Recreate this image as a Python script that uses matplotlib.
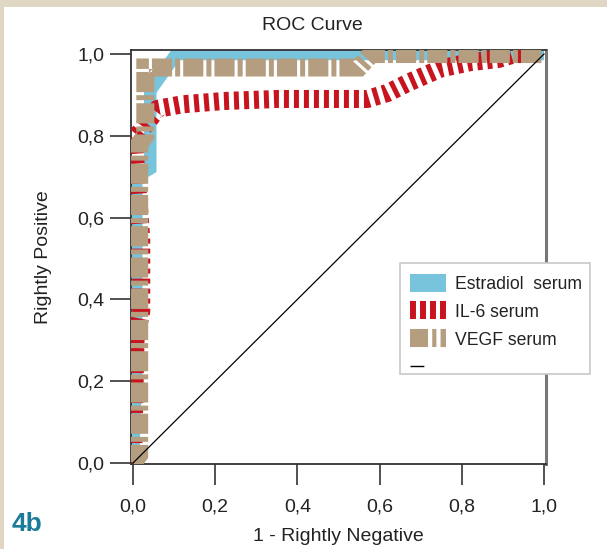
import matplotlib
matplotlib.use("Agg")
import matplotlib.pyplot as plt
from matplotlib.lines import Line2D
from matplotlib.patches import Rectangle

plt.rcParams['font.family'] = ['Liberation Sans', 'DejaVu Sans']
plt.rcParams['lines.scale_dashes'] = False

# ROC points (1 - specificity, sensitivity)
est_fpr = [0, 0.008, 0.008, 0.042, 0.042, 0.105, 1.0]
est_tpr = [0, 0.25, 0.70, 0.72, 0.91, 1.0, 1.0]

il6_fpr = [0, 0.006, 0.02, 0.02, 0.002, 0.06, 0.12, 0.22, 0.35, 0.57, 0.62, 0.67, 0.75, 0.82, 0.89, 0.93, 1.0]
il6_tpr = [0, 0.30, 0.37, 0.55, 0.79, 0.866, 0.877, 0.885, 0.89, 0.89, 0.905, 0.93, 0.965, 0.98, 0.988, 1.0, 1.0]

vegf_fpr = [0, 0.015, 0.015, 0.03, 0.03, 0.55, 0.58, 1.0]
vegf_tpr = [0, 0.02, 0.78, 0.80, 0.967, 0.967, 1.0, 1.0]

series_labels = ["Estradiol  serum", "IL-6 serum", "VEGF serum", ""]
ticks = [0, 0.2, 0.4, 0.6, 0.8, 1.0]
tick_labels = ["0,0", "0,2", "0,4", "0,6", "0,8", "1,0"]

BLUE = "#77c4dc"
RED = "#c8141e"
TAN = "#b59e7f"
RED_DASH = (3.6, 3.6)
TAN_DASH = (14.5, 2.2, 3.6, 2.2)

fig = plt.figure(figsize=(6.07, 5.49), dpi=100)
fig.patch.set_facecolor("white")
# beige frame strips at top and left
fig.patches.append(Rectangle((0, 1 - 7/549), 1, 7/549, transform=fig.transFigure,
                             facecolor="#dfd6c3", edgecolor="none", zorder=0))
fig.patches.append(Rectangle((0, 0), 4/607, 1, transform=fig.transFigure,
                             facecolor="#dfd6c3", edgecolor="none", zorder=0))

ax = fig.add_axes([131/607, 85/549, 415/607, 414/549])
ax.plot(est_fpr, est_tpr, color=BLUE, lw=9, solid_capstyle="butt", solid_joinstyle="miter", zorder=2)
ax.plot(il6_fpr, il6_tpr, color=RED, lw=13, dashes=RED_DASH, dash_capstyle="butt", zorder=3)
ax.plot(vegf_fpr, vegf_tpr, color=TAN, lw=13, dashes=TAN_DASH, dash_capstyle="butt",
        dash_joinstyle="miter", zorder=4)
ax.plot([0, 1], [0, 1], color="black", lw=0.9, zorder=5)

ax.set_xlim(-2/411, 1 + 2/411)
ax.set_ylim(-1/409, 1 + 4/409)
ax.set_xticks(ticks)
ax.set_xticklabels(tick_labels)
ax.set_yticks(ticks)
ax.set_yticklabels(tick_labels)
ax.tick_params(axis="both", direction="out", length=15, width=1.2, color="#333333",
               labelsize=14, labelcolor="#222222")
ax.tick_params(axis="x", pad=10)
ax.tick_params(axis="y", pad=4)
for s in ["left", "bottom", "top"]:
    ax.spines[s].set_color("#333333")
    ax.spines[s].set_linewidth(1.3)
ax.spines["right"].set_color("#777777")
ax.spines["right"].set_linewidth(2.2)

ax.set_xlabel("1 - Rightly Negative", fontsize=14, color="#222222", labelpad=9)
ax.set_ylabel("Rightly Positive", fontsize=14, color="#222222", labelpad=18)
fig.text(312/607, 1 - 25/549, "ROC Curve", fontsize=14, color="#222222", ha="center", va="center")
fig.text(12/607, 1 - 524/549, "4b", fontsize=19, fontweight="bold", color="#1b7b98",
         ha="left", va="center")

# legend box drawn separately so its bottom sits tight under the last (blank) entry
fig.patches.append(Rectangle((400/607, 1 - 374/549), 190/607, 111/549, transform=fig.transFigure,
                             facecolor="white", edgecolor="#c8c8c8", lw=1.2, zorder=9))
handles = [
    Line2D([], [], color=BLUE, lw=13, solid_capstyle="butt"),
    Line2D([], [], color=RED, lw=13, dashes=(4.3, 2.9), dash_capstyle="butt"),
    Line2D([], [], color=TAN, lw=13, dashes=(13, 3, 3, 3), dash_capstyle="butt"),
    Line2D([], [], color="black", lw=1, dashes=(10, 60)),
]
leg = fig.legend(handles, series_labels, loc="upper left", bbox_to_anchor=(400/607, 1 - 266/549),
                 bbox_transform=fig.transFigure, fontsize=12.7, frameon=False,
                 handlelength=2.05, handletextpad=0.5,
                 labelspacing=0.62, borderpad=0.55, borderaxespad=0)
leg.set_zorder(10)
for t in leg.get_texts():
    t.set_color("#222222")

fig.savefig("out.png", dpi=100)
